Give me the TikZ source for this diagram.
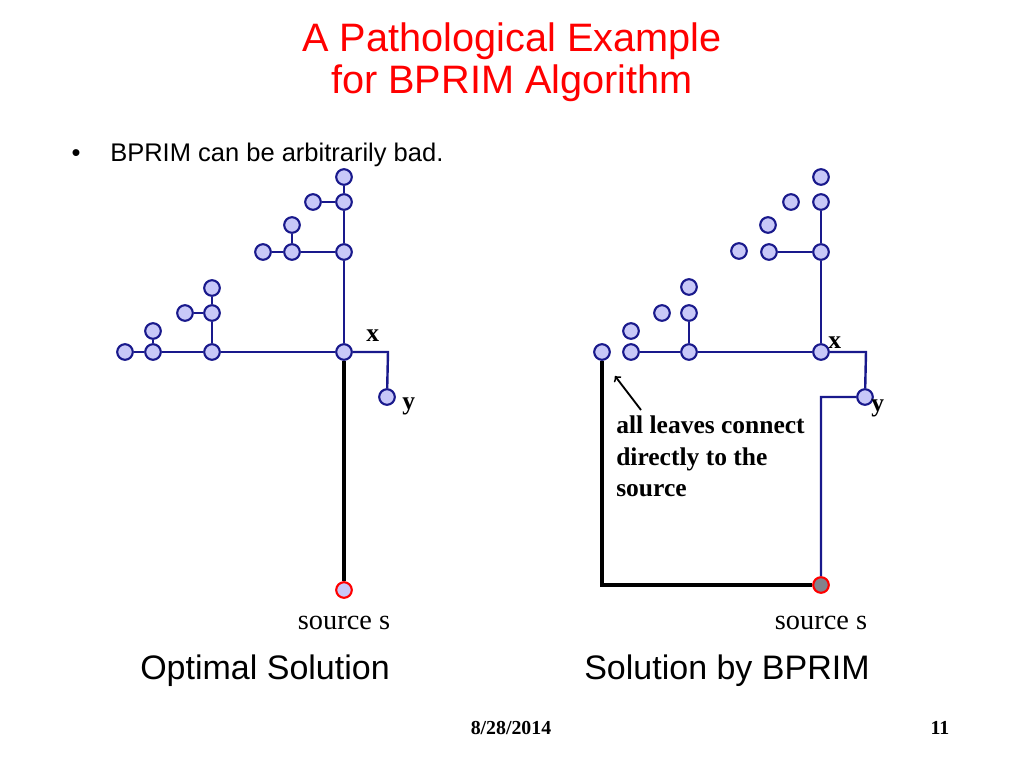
\documentclass[tikz,border=0pt]{standalone}
\usepackage{fontspec}
\setmainfont{Liberation Serif}
\setsansfont{Liberation Sans}
\usetikzlibrary{positioning}
\definecolor{navy}{RGB}{25,25,140}
\definecolor{vfill}{RGB}{200,200,248}
\definecolor{sgray}{RGB}{130,130,140}

\begin{document}
\begin{tikzpicture}[x=0.009765625in, y=-0.009765625in,
    vtx/.style={circle, draw=navy, fill=vfill, line width=1.5pt, inner sep=0pt, minimum size=11pt},
    srcvtx/.style={vtx, draw=red},
    link/.style={navy, line width=1.7pt},
    heavy/.style={black, line width=3.5pt},
    lbl/.style={inner sep=0pt, font=\fontsize{18}{20}\selectfont\bfseries},
    srclbl/.style={inner sep=0pt, font=\fontsize{20}{22}\selectfont}]
\path[fill=white, use as bounding box] (0,0) rectangle (1024,768);

% title and bullet
\node[red, anchor=base, font=\sffamily\fontsize{28}{30}\selectfont] (title1) at (512,52) {A Pathological Example};
\node[red, anchor=base, font=\sffamily\fontsize{28}{30}\selectfont] (title2) at (512,94) {for BPRIM Algorithm};
\node[anchor=base, font=\sffamily\fontsize{18}{20}\selectfont] (dot) at (76,161) {•};
\node[anchor=base west, inner sep=0pt, font=\sffamily\fontsize{18}{20}\selectfont] (claim) at (110,161) {BPRIM can be arbitrarily bad.};

% optimal solution
\node[vtx] (lt) at (344,177) {};
\node[vtx] (lu) at (344,202) {};
\node[vtx] (lul) at (313,202) {};
\node[vtx] (lm) at (344,252) {};
\node[vtx] (lmb) at (292,252) {};
\node[vtx] (lmbl) at (263,252) {};
\node[vtx] (lmbt) at (292,225) {};
\node[vtx] (lx) at (344,352) {};
\node[vtx] (lk) at (212,352) {};
\node[vtx] (lkt) at (212,313) {};
\node[vtx] (lktt) at (212,288) {};
\node[vtx] (lktl) at (185,313) {};
\node[vtx] (lj) at (153,352) {};
\node[vtx] (ljt) at (153,331) {};
\node[vtx] (ljl) at (125,352) {};
\node[vtx] (ly) at (387,397) {};
\node[srcvtx] (ls) at (344,590) {};
\coordinate (lc) at (388,352);
\draw[link] (lt) -- (lu) (lul) -- (lu) (lu) -- (lm) (lmbt) -- (lmb) (lmbl) -- (lmb) (lmb) -- (lm) (lm) -- (lx);
\draw[link] (lktt) -- (lkt) (lktl) -- (lkt) (lkt) -- (lk) (ljt) -- (lj) (ljl) -- (lj) (lj) -- (lk) (lk) -- (lx);
\draw[link] (lx) -- (lc) -- (ly);
\draw[heavy] (lx) -- (ls);
\node[lbl, anchor=base west] (lxl) at (366,341) {x};
\node[lbl, anchor=base west] (lyl) at (402,409) {y};
\node[srclbl, below=12pt of ls] (lsl) {source s};
\node[anchor=base, font=\sffamily\fontsize{24}{26}\selectfont] (opt) at (265,679) {Optimal Solution};

% solution by BPRIM
\node[vtx] (rt) at (821,177) {};
\node[vtx] (ru) at (821,202) {};
\node[vtx] (rul) at (791,202) {};
\node[vtx] (rm) at (821,252) {};
\node[vtx] (rmb) at (769,252) {};
\node[vtx] (rmbl) at (739,251) {};
\node[vtx] (rmbt) at (768,225) {};
\node[vtx] (rx) at (821,352) {};
\node[vtx] (rk) at (689,352) {};
\node[vtx] (rkt) at (689,313) {};
\node[vtx] (rktt) at (689,287) {};
\node[vtx] (rktl) at (662,313) {};
\node[vtx] (rj) at (631,352) {};
\node[vtx] (rjt) at (631,331) {};
\node[vtx] (rleaf) at (602,352) {};
\node[vtx] (ry) at (865,397) {};
\node[srcvtx, fill=sgray] (rs) at (821,585) {};
\coordinate (rc) at (866,352);
\coordinate (rd) at (821,397);
\coordinate (rb) at (602,585);
\draw[link] (ru) -- (rm) (rmb) -- (rm) (rm) -- (rx) (rkt) -- (rk) (rj) -- (rk) (rk) -- (rx);
\draw[link] (rx) -- (rc) -- (ry) -- (rd) -- (rs);
\draw[heavy] (rleaf) -- (rb) -- (rs);
\node[lbl, anchor=base west] (rxl) at (828,348) {x};
\node[lbl, anchor=base west] (ryl) at (871,411) {y};
\node[srclbl, below=15.5pt of rs] (rsl) {source s};
\node[lbl, anchor=north west, align=left, font=\fontsize{18}{21.9}\selectfont\bfseries] (note) at (616,416) {all leaves connect\\directly to the\\source};
\coordinate (tip) at (615,376);
\draw[->, line width=1.3pt] ([shift={(25,-6)}]note.north west) -- (tip);
\node[anchor=base, font=\sffamily\fontsize{24}{26}\selectfont] (bprim) at (727,679) {Solution by BPRIM};

% footer
\node[anchor=base, font=\fontsize{14}{16}\selectfont\bfseries] (date) at (511,734) {8/28/2014};
\node[anchor=base, font=\fontsize{14}{16}\selectfont\bfseries] (page) at (940,734) {11};
\end{tikzpicture}
\end{document}
